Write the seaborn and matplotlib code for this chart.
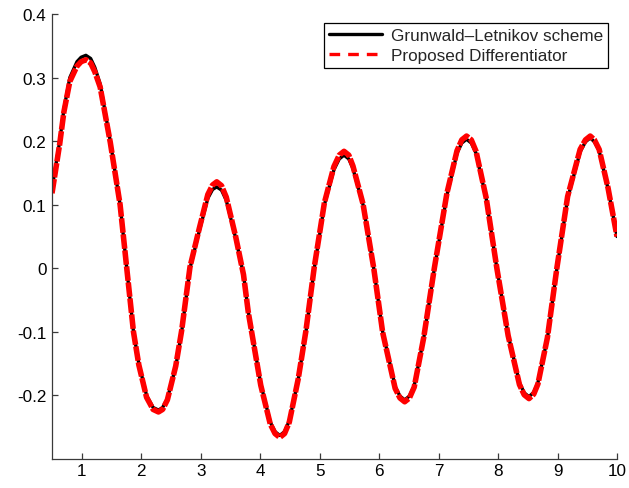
import matplotlib
matplotlib.use("Agg")
import matplotlib.pyplot as plt
from matplotlib.lines import Line2D
import seaborn as sns
import pandas as pd

# ---- data ----
t_values = [0.5, 0.63, 0.7, 0.8, 0.92, 0.99, 1.07, 1.15, 1.22, 1.31, 1.48, 1.645, 1.757, 1.87, 1.96, 2.09, 2.2, 2.29,
            2.36, 2.44, 2.58, 2.68, 2.82, 2.98, 3.12, 3.2, 3.27,
            3.35, 3.43, 3.59, 3.72, 3.80, 4.01, 4.17, 4.25, 4.33,
            4.41, 4.49, 4.64, 4.77, 4.91, 5.08, 5.24, 5.33, 5.41,
            5.49, 5.56, 5.73, 5.91, 6.06, 6.27, 6.35, 6.43,
            6.51, 6.59, 6.75, 6.93, 7.14, 7.31, 7.39, 7.47,
            7.55, 7.63, 7.80, 7.98, 8.17, 8.36, 8.44, 8.52,
            8.60, 8.67, 8.83, 8.99, 9.17, 9.38, 9.47, 9.55,
            9.62, 9.70, 9.85, 10.0]

gl_values = [0.125, 0.2, 0.25, 0.3, 0.325, 0.332, 0.335, 0.330, 0.316, 0.29, 0.2, 0.1, 0.0, -0.1, -0.15, -0.2, -0.219, -0.223,
             -0.219, -0.205, -0.155, -0.1, 0.0, 0.06, 0.11, 0.124, 0.128,
             0.123, 0.107, 0.047, -0.01, -0.068, -0.182, -0.242, -0.257, -0.263,
             -0.257, -0.24, -0.175, -0.1, 0.0, 0.1, 0.155, 0.172, 0.178,
             0.172, 0.157, 0.1, 0.0, -0.1, -0.186, -0.201, -0.207,
             -0.201, -0.185, -0.11, 0.0, 0.115, 0.181, 0.197, 0.203,
             0.197, 0.181, 0.11, 0.0, -0.105, -0.18, -0.196, -0.202,
             -0.195, -0.18, -0.11, 0.0, 0.11, 0.183, 0.199, 0.205,
             0.199, 0.185, 0.125, 0.05]

pd_values = [0.118, 0.196, 0.246, 0.294, 0.318, 0.325, 0.328, 0.323, 0.309, 0.285, 0.198, 0.1, 0.0, -0.1, -0.152, -0.203, -0.222, -0.226,
             -0.222, -0.207, -0.154, -0.098, 0.002, 0.064, 0.116, 0.131, 0.136,
             0.130, 0.112, 0.049, -0.01, -0.069, -0.184, -0.245, -0.260, -0.266,
             -0.260, -0.242, -0.174, -0.098, 0.002, 0.103, 0.16, 0.178, 0.184,
             0.178, 0.161, 0.101, 0.0, -0.101, -0.189, -0.204, -0.21,
             -0.204, -0.187, -0.109, 0.001, 0.118, 0.185, 0.202, 0.208,
             0.202, 0.184, 0.111, 0.0, -0.106, -0.183, -0.199, -0.205,
             -0.198, -0.182, -0.109, 0.001, 0.113, 0.187, 0.202, 0.208,
             0.202, 0.187, 0.126, 0.05]

x_ticks = [1, 2, 3, 4, 5, 6, 7, 8, 9, 10]
y_ticks = [-0.2, -0.1, 0.0, 0.1, 0.2, 0.3, 0.4]
y_tick_labels = ["-0.2", "-0.1", "0", "0.1", "0.2", "0.3", "0.4"]
series_labels = ["Grunwald\u2013Letnikov scheme", "Proposed Differentiator"]

# ---- style ----
sns.set_style("white")
plt.rcParams["font.family"] = ["Liberation Sans", "DejaVu Sans"]
plt.rcParams["axes.unicode_minus"] = False

fig = plt.figure(figsize=(6.29, 4.89), dpi=100)
ax = fig.add_axes([52 / 629, 29 / 489, 565 / 629, 445 / 489])

df = pd.DataFrame({"t": t_values, "gl": gl_values, "pd": pd_values})

sns.lineplot(data=df, x="t", y="gl", ax=ax, color="black", linewidth=2.4,
             sort=False, estimator=None)
sns.lineplot(data=df, x="t", y="pd", ax=ax, color="#ff0000", linewidth=4.0,
             sort=False, estimator=None)
red_line = ax.lines[-1]
red_line.set_dashes((2.6, 0.3))
red_line.set_solid_joinstyle("round")
red_line.set_dash_joinstyle("round")

ax.set_xlim(0.5, 10)
ax.set_ylim(-0.3, 0.4)
ax.set_xticks(x_ticks)
ax.set_xticklabels([str(v) for v in x_ticks])
ax.set_yticks(y_ticks)
ax.set_yticklabels(y_tick_labels)
ax.set_xlabel("")
ax.set_ylabel("")

for side in ["top", "right"]:
    ax.spines[side].set_visible(False)
for side in ["left", "bottom"]:
    ax.spines[side].set_color("#3a3a3a")
    ax.spines[side].set_linewidth(0.9)

ax.tick_params(axis="both", which="major", bottom=True, left=True,
               direction="in", length=4, width=0.9, color="#3a3a3a",
               labelsize=12.3, labelcolor="black")
ax.tick_params(axis="x", pad=3)
ax.tick_params(axis="y", pad=4)

handles = [Line2D([], [], color="black", linewidth=2.4),
           Line2D([], [], color="#ff0000", linewidth=2.4, linestyle=(0, (3.2, 2.4)))]
leg = ax.legend(handles, series_labels, loc="upper right", fontsize=12.3,
                frameon=True, fancybox=False, shadow=False, framealpha=1,
                edgecolor="black", handlelength=3.1, handletextpad=0.55,
                labelspacing=0.3, borderpad=0.3, borderaxespad=0.5)
leg.get_frame().set_linewidth(0.9)

fig.savefig("out.png", dpi=100)
